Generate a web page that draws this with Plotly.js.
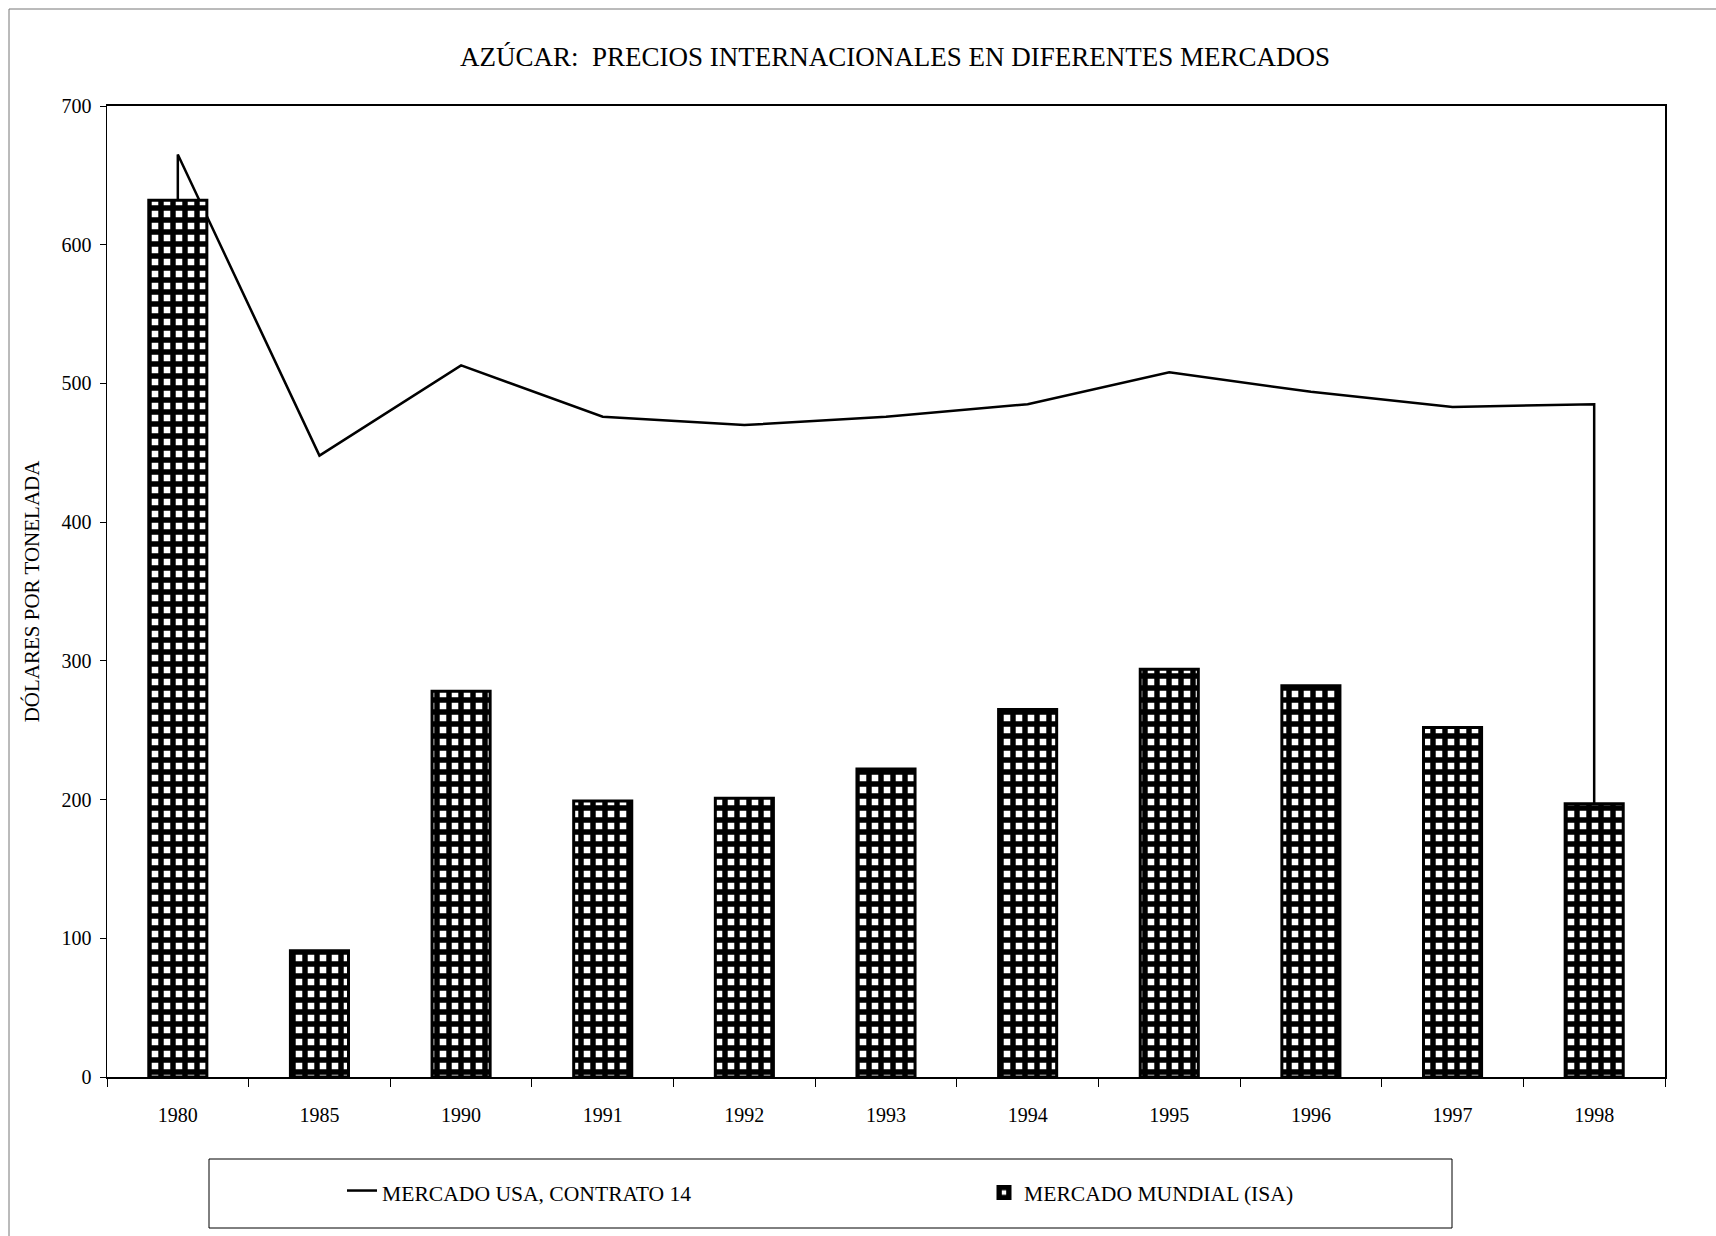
<!DOCTYPE html>
<html>
<head>
<meta charset="utf-8">
<script src="https://cdn.plot.ly/plotly-3.0.1.min.js"></script>
<style>html,body{margin:0;padding:0;background:#fff;}#chart{width:1716px;height:1236px;}</style>
</head>
<body>
<div id="chart"></div>
<script>
// ---- data ----
const years = ["1980","1985","1990","1991","1992","1993","1994","1995","1996","1997","1998"];
const usaContrato14 = [665, 448, 513, 476, 470, 476, 485, 508, 494, 483, 485];
const mercadoMundial = [632, 91, 278, 199, 201, 222, 265, 294, 282, 252, 197];
const chartTitle = "AZÚCAR:  PRECIOS INTERNACIONALES EN DIFERENTES MERCADOS";
const yTitle = "DÓLARES POR TONELADA";
const seriesNames = ["MERCADO USA, CONTRATO 14", "MERCADO MUNDIAL (ISA)"];

// ---- geometry helpers (layout only) ----
const W = 1716, H = 1236;
const L = 107, R = 1665, T = 106, B = 1077;
const px2x = p => (p - L) / (R - L);
const px2y = p => (B - p) / (B - T);
const FONT = "Liberation Serif, Times New Roman, serif";

// area series drawn as closed outline down to zero at first/last category
const areaX = [years[0]].concat(years, [years[years.length - 1]]);
const areaY = [0].concat(usaContrato14, [0]);

const traces = [
  {
    type: "scatter", mode: "lines", name: seriesNames[0],
    x: areaX, y: areaY, xaxis: "x", yaxis: "y",
    fill: "toself", fillcolor: "#ffffff",
    line: {color: "#000", width: 2.5}
  },
  {
    type: "bar", name: seriesNames[1],
    x: years, y: mercadoMundial, xaxis: "x2", yaxis: "y2",
    marker: {
      color: "#ffffff",
      line: {color: "#000", width: 3},
      pattern: {shape: "+", fgcolor: "#000", bgcolor: "#fff", size: 12, solidity: 0.7}
    }
  }
];

const axisFont = {family: FONT, size: 20, color: "#000"};
const layout = {
  width: W, height: H,
  paper_bgcolor: "#fff", plot_bgcolor: "#fff",
  margin: {l: L, r: W - R, t: T, b: H - B, pad: 0},
  font: {family: FONT, color: "#000"},
  title: {
    text: chartTitle, font: {family: FONT, size: 27, color: "#000"},
    xref: "container", yref: "container", x: 895 / W, xanchor: "center",
    y: 1 - 57 / H, yanchor: "middle"
  },
  bargap: 0.59,
  showlegend: true,
  xaxis: {
    type: "category", categoryorder: "array", categoryarray: years,
    range: [-0.5, years.length - 0.5],
    showline: true, linecolor: "#000", linewidth: 2, mirror: true,
    ticks: "outside", tickson: "boundaries", ticklen: 8, tickcolor: "#000", tickwidth: 1,
    ticklabelstandoff: 19, tickfont: axisFont, showgrid: false, zeroline: false
  },
  yaxis: {
    range: [0, 700], dtick: 100, tick0: 0,
    showline: true, linecolor: "#000", linewidth: 1.5, mirror: true,
    ticks: "outside", ticklen: 6, tickcolor: "#000", tickwidth: 1,
    ticklabelstandoff: 4, tickfont: axisFont, showgrid: false, zeroline: false,
    title: {text: yTitle, font: {family: FONT, size: 21, color: "#000"}, standoff: 16}
  },
  xaxis2: {
    type: "category", categoryorder: "array", categoryarray: years,
    range: [-0.5, years.length - 0.5], overlaying: "x", visible: false
  },
  yaxis2: {range: [0, 700], overlaying: "y", visible: false},
  legend: {
    orientation: "h", x: px2x(342), xanchor: "left", y: px2y(1193), yanchor: "middle",
    font: {family: FONT, size: 21.6, color: "#000"},
    bgcolor: "rgba(0,0,0,0)", borderwidth: 0,
    entrywidth: 597, entrywidthmode: "pixels", traceorder: "normal"
  },
  shapes: [
    {type: "rect", xref: "paper", yref: "paper",
     x0: px2x(209), x1: px2x(1452), y0: px2y(1228), y1: px2y(1159),
     line: {color: "#000", width: 1}, fillcolor: "rgba(0,0,0,0)", layer: "below"},
    {type: "line", xref: "paper", yref: "paper",
     x0: px2x(9), x1: px2x(1716), y0: px2y(9), y1: px2y(9),
     line: {color: "#777", width: 1}},
    {type: "line", xref: "paper", yref: "paper",
     x0: px2x(9), x1: px2x(9), y0: px2y(9), y1: px2y(1236),
     line: {color: "#777", width: 1}}
  ]
};

Plotly.newPlot("chart", traces, layout, {displayModeBar: false, staticPlot: true});
</script>
</body>
</html>
